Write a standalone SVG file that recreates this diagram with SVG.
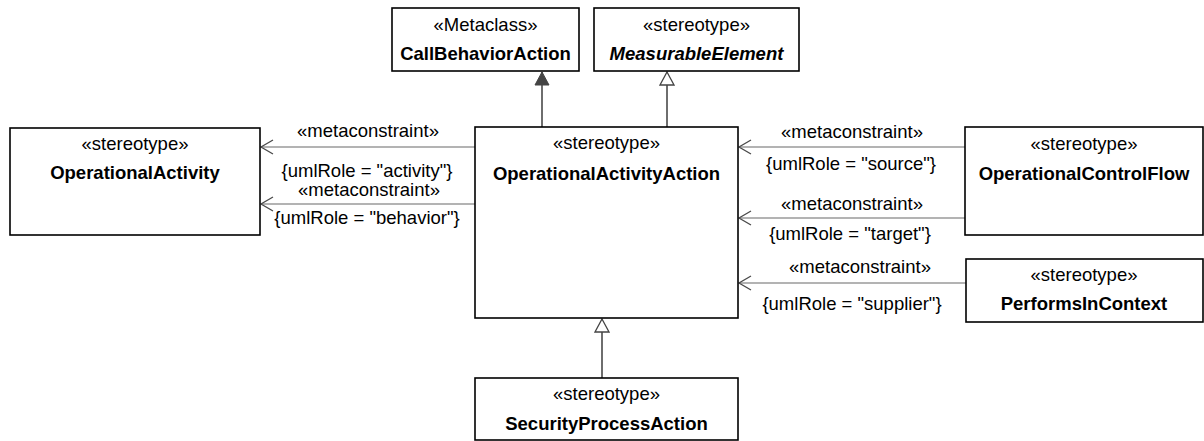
<svg xmlns="http://www.w3.org/2000/svg" width="1204" height="441" viewBox="0 0 1204 441">
<style>
.box{fill:#fff;stroke:#000;stroke-width:1.6}
.st{font-family:"Liberation Sans",Arial,sans-serif;font-size:18.5px;fill:#000;text-anchor:middle}
.nm{font-family:"Liberation Sans",Arial,sans-serif;font-size:18.5px;font-weight:bold;fill:#000;text-anchor:middle}
.lb{font-family:"Liberation Sans",Arial,sans-serif;font-size:18.5px;fill:#000;text-anchor:middle}
.dep{stroke:#9a9a9a;stroke-width:1.3;fill:none}
.gen{stroke:#4a4a4a;stroke-width:1.6;fill:none}
</style>
<defs>
<marker id="open" markerWidth="16" markerHeight="16" refX="14" refY="8" orient="auto" markerUnits="userSpaceOnUse">
<path d="M2,1 L14,8 L2,15" fill="none" stroke="#4a4a4a" stroke-width="1.3"/>
</marker>
<marker id="filled" markerWidth="16" markerHeight="15" refX="8" refY="1" orient="0" markerUnits="userSpaceOnUse">
<path d="M8,1 L15,14 L1,14 Z" fill="#444" stroke="#444" stroke-width="1"/>
</marker>
<marker id="hollow" markerWidth="16" markerHeight="15" refX="8" refY="1" orient="0" markerUnits="userSpaceOnUse">
<path d="M8,1 L15,14 L1,14 Z" fill="#fff" stroke="#444" stroke-width="1.3"/>
</marker>
</defs>
<g id="connectors">
<line class="gen" x1="542" y1="127" x2="542" y2="72" marker-end="url(#filled)"/>
<line class="gen" x1="667" y1="127" x2="667" y2="72" marker-end="url(#hollow)"/>
<line class="gen" x1="602" y1="378" x2="602" y2="319" marker-end="url(#hollow)"/>
<line class="dep" x1="475" y1="147" x2="261" y2="147" marker-end="url(#open)"/>
<line class="dep" x1="475" y1="204" x2="261" y2="204" marker-end="url(#open)"/>
<line class="dep" x1="965" y1="147" x2="739" y2="147" marker-end="url(#open)"/>
<line class="dep" x1="965" y1="218" x2="739" y2="218" marker-end="url(#open)"/>
<line class="dep" x1="966" y1="283" x2="739" y2="283" marker-end="url(#open)"/>
<text class="lb" x="368" y="137">«metaconstraint»</text>
<text class="lb" x="367" y="177">{umlRole = "activity"}</text>
<text class="lb" x="369" y="196">«metaconstraint»</text>
<text class="lb" x="367" y="224">{umlRole = "behavior"}</text>
<text class="lb" x="852" y="138">«metaconstraint»</text>
<text class="lb" x="851" y="170">{umlRole = "source"}</text>
<text class="lb" x="852" y="210">«metaconstraint»</text>
<text class="lb" x="850" y="240">{umlRole = "target"}</text>
<text class="lb" x="860" y="273">«metaconstraint»</text>
<text class="lb" x="852" y="310">{umlRole = "supplier"}</text>
</g>
<g id="CallBehaviorAction">
<rect class="box" x="392" y="8" width="187" height="63"/>
<text class="st" x="485.5" y="31">«Metaclass»</text>
<text class="nm" x="485.5" y="60">CallBehaviorAction</text>
</g>
<g id="MeasurableElement">
<rect class="box" x="594" y="8" width="205" height="63"/>
<text class="st" x="696.5" y="31">«stereotype»</text>
<text class="nm" x="696.5" y="60" font-style="italic">MeasurableElement</text>
</g>
<g id="OperationalActivity">
<rect class="box" x="10" y="128" width="250" height="107"/>
<text class="st" x="135" y="150">«stereotype»</text>
<text class="nm" x="135" y="179">OperationalActivity</text>
</g>
<g id="OperationalActivityAction">
<rect class="box" x="475" y="127" width="263" height="191"/>
<text class="st" x="606.5" y="149">«stereotype»</text>
<text class="nm" x="606.5" y="180">OperationalActivityAction</text>
</g>
<g id="OperationalControlFlow">
<rect class="box" x="965" y="127" width="238" height="108"/>
<text class="st" x="1084" y="150">«stereotype»</text>
<text class="nm" x="1084" y="180">OperationalControlFlow</text>
</g>
<g id="PerformsInContext">
<rect class="box" x="966" y="259" width="237" height="63"/>
<text class="st" x="1084" y="281">«stereotype»</text>
<text class="nm" x="1084" y="310">PerformsInContext</text>
</g>
<g id="SecurityProcessAction">
<rect class="box" x="475" y="378" width="263" height="62"/>
<text class="st" x="606.5" y="400">«stereotype»</text>
<text class="nm" x="606.5" y="430">SecurityProcessAction</text>
</g>
</svg>
